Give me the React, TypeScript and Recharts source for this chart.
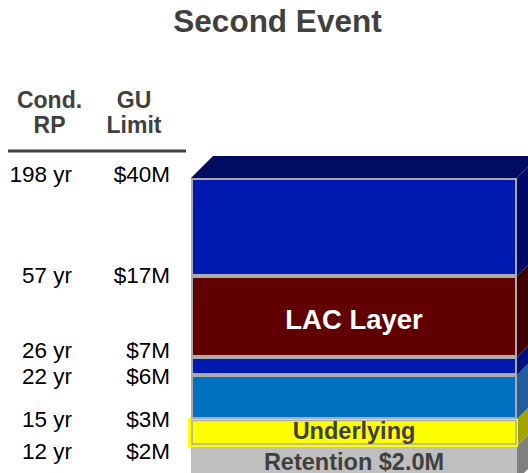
import React from 'react';
import { BarChart, Bar, XAxis, YAxis } from 'recharts';

// ---- data ----
const title = 'Second Event';
const headerRP = ['Cond.', 'RP'];
const headerLimit = ['GU', 'Limit'];
const layerKeys = ['retention', 'underlying', 'layerA', 'layerB', 'lac', 'layerC'];
const layerNames = ['Retention $2.0M', 'Underlying', '', '', 'LAC Layer', ''];
// visual thickness of each layer (schematic units)
const layerHeights = [34, 27, 44, 18, 81, 98];
const rpLabels = ['12 yr', '15 yr', '22 yr', '26 yr', '57 yr', '198 yr'];
const limitLabels = ['$2M', '$3M', '$6M', '$7M', '$17M', '$40M'];

// ---- styles ----
const FONT = '"Liberation Sans", Arial, Helvetica, sans-serif';
const frontColors = ['#BFBFBF', '#FFFF00', '#0070C0', '#0019B0', '#600000', '#0019B0'];
const sideColors = ['#7F7F7F', '#A3A300', '#215E9C', '#00107E', '#3C0000', '#000A66'];
const topColor = '#000C62';
const labelColors = ['#404040', '#404040', '#fff', '#fff', '#ffffff', '#fff'];
const labelSizes = [23.5, 23.5, 22, 22, 27.5, 22];
const labelBaseline = [24, 20, 0, 0, 53, 0];
const tickBaseline = [13, 8, 9, 1, 7, 4];
const DEPTH = 22;

const row: Record<string, any> = { name: title };
layerKeys.forEach((k, i) => (row[k] = layerHeights[i]));
const data = [row];

const boundaries: number[] = [];
layerHeights.reduce((acc, v) => {
  boundaries.push(acc + v);
  return acc + v;
}, 0);
const total = boundaries[boundaries.length - 1];

const makeShape = (i: number) => (props: any) => {
  const { x, y, width: w, height: h } = props;
  const D = DEPTH;
  const last = i === layerKeys.length - 1;
  const side = `${x + w},${y} ${x + w + D},${y - D} ${x + w + D},${y + h - D} ${x + w},${y + h}`;
  const top = `${x},${y} ${x + D},${y - D} ${x + w + D},${y - D} ${x + w},${y}`;
  return (
    <g>
      <polygon points={side} fill={sideColors[i]} />
      {last && <polygon points={top} fill={topColor} />}
      {i === 0 ? (
        <rect x={x} y={y} width={w} height={h} fill={frontColors[i]} />
      ) : i === 1 ? (
        <g>
          <rect x={x - 3} y={y - 1} width={w + 4} height={h + 2} fill={frontColors[i]} />
          <rect x={x + 1} y={y + 1.5} width={w - 2} height={h - 3.5} fill={frontColors[i]} stroke="#ABABAB" strokeWidth={1.5} />
        </g>
      ) : (
        <rect x={x + 1} y={y + 1} width={w - 2} height={h - 2} fill={frontColors[i]} stroke="#ABABAB" strokeWidth={2} />
      )}
      {layerNames[i] && (
        <text
          x={x + w / 2}
          y={y + labelBaseline[i]}
          textAnchor="middle"
          fontFamily={FONT}
          fontWeight="bold"
          fontSize={labelSizes[i]}
          fill={labelColors[i]}
        >
          {layerNames[i]}
        </text>
      )}
    </g>
  );
};

const Tick = (props: any) => {
  const { y, payload } = props;
  const idx = boundaries.indexOf(payload.value);
  if (idx < 0) return null;
  const by = y + tickBaseline[idx];
  return (
    <g>
      <text x={72} y={by} textAnchor="end" fontFamily={FONT} fontSize={22.5} fill="#000">
        {rpLabels[idx]}
      </text>
      <text x={170} y={by} textAnchor="end" fontFamily={FONT} fontSize={22.5} fill="#000">
        {limitLabels[idx]}
      </text>
    </g>
  );
};

export default function App() {
  return (
    <div style={{ position: 'absolute', left: 0, top: 0, width: 528, height: 473, overflow: 'hidden', background: '#fff' }}>
      <BarChart
        width={528}
        height={480}
        data={data}
        margin={{ top: 178, right: 11, bottom: 0, left: 0 }}
        barCategoryGap={0}
        barGap={0}
      >
        <XAxis dataKey="name" type="category" hide />
        <YAxis
          type="number"
          domain={[0, total]}
          ticks={boundaries}
          interval={0}
          width={191}
          axisLine={false}
          tickLine={false}
          tick={<Tick />}
        />
        {layerKeys.map((k, i) => (
          <Bar key={k} dataKey={k} stackId="a" isAnimationActive={false} shape={makeShape(i)} />
        ))}
      </BarChart>
      <svg width={528} height={180} style={{ position: 'absolute', left: 0, top: 0, pointerEvents: 'none' }}>
        <text x={277.5} y={32} textAnchor="middle" fontFamily={FONT} fontWeight="bold" fontSize={31.5} fill="#404040">
          {title}
        </text>
        <text x={49.5} y={108} textAnchor="middle" fontFamily={FONT} fontWeight="bold" fontSize={23} fill="#404040">
          {headerRP[0]}
        </text>
        <text x={49.5} y={133} textAnchor="middle" fontFamily={FONT} fontWeight="bold" fontSize={23} fill="#404040">
          {headerRP[1]}
        </text>
        <text x={134} y={108} textAnchor="middle" fontFamily={FONT} fontWeight="bold" fontSize={23} fill="#404040">
          {headerLimit[0]}
        </text>
        <text x={134} y={133} textAnchor="middle" fontFamily={FONT} fontWeight="bold" fontSize={23} fill="#404040">
          {headerLimit[1]}
        </text>
        <line x1={8} x2={186} y1={151} y2={151} stroke="#404040" strokeWidth={3} />
      </svg>
    </div>
  );
}
